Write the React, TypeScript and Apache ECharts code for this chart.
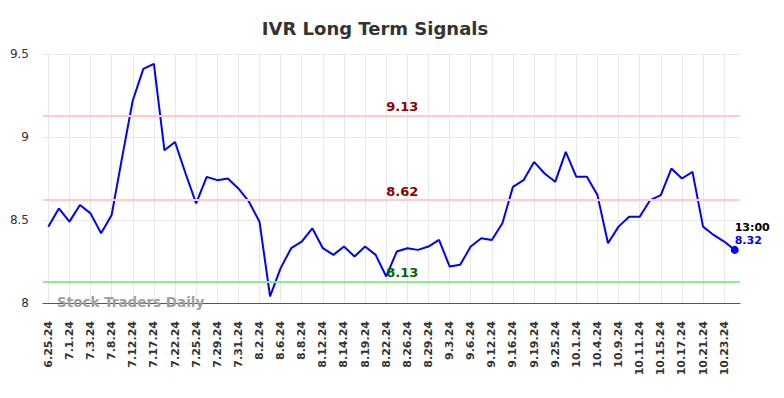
import React, { useEffect, useRef } from "react";
import * as echarts from "echarts";

const TITLE = "IVR Long Term Signals";
const WATERMARK = "Stock Traders Daily";
const LAST_TIME = "13:00";

const dates: string[] = [
  "6.25.24", "6.27.24", "7.1.24", "7.2.24", "7.3.24", "7.5.24", "7.8.24", "7.10.24",
  "7.12.24", "7.15.24", "7.17.24", "7.19.24", "7.22.24", "7.23.24", "7.25.24", "7.26.24",
  "7.29.24", "7.30.24", "7.31.24", "8.1.24", "8.2.24", "8.5.24", "8.6.24", "8.7.24",
  "8.8.24", "8.9.24", "8.12.24", "8.13.24", "8.14.24", "8.16.24", "8.19.24", "8.21.24",
  "8.22.24", "8.23.24", "8.26.24", "8.27.24", "8.29.24", "8.30.24", "9.3.24", "9.4.24",
  "9.6.24", "9.10.24", "9.12.24", "9.13.24", "9.16.24", "9.18.24", "9.19.24", "9.23.24",
  "9.25.24", "9.27.24", "10.1.24", "10.2.24", "10.4.24", "10.7.24", "10.9.24", "10.10.24",
  "10.11.24", "10.14.24", "10.15.24", "10.16.24", "10.17.24", "10.18.24", "10.21.24", "10.22.24",
  "10.23.24", "10.24.24",
];

const prices: number[] = [
  8.46, 8.57, 8.49, 8.59, 8.54, 8.42, 8.53, 8.88,
  9.22, 9.41, 9.44, 8.92, 8.97, 8.78, 8.60, 8.76,
  8.74, 8.75, 8.69, 8.61, 8.49, 8.04, 8.21, 8.33,
  8.37, 8.45, 8.33, 8.29, 8.34, 8.28, 8.34, 8.29,
  8.16, 8.31, 8.33, 8.32, 8.34, 8.38, 8.22, 8.23,
  8.34, 8.39, 8.38, 8.48, 8.70, 8.74, 8.85, 8.78,
  8.73, 8.91, 8.76, 8.76, 8.65, 8.36, 8.46, 8.52,
  8.52, 8.62, 8.65, 8.81, 8.75, 8.79, 8.46, 8.41,
  8.37, 8.32,
];

const resistanceLevels: number[] = [9.13, 8.62];
const supportLevels: number[] = [8.13];
const signalLabelIndex = 32;

const yTicks = { min: 8, max: 9.5, interval: 0.5 };

export default function App() {
  const ref = useRef<HTMLDivElement>(null);

  useEffect(() => {
    if (!ref.current) return;
    const chart = echarts.init(ref.current, undefined, { renderer: "svg" });
    const lastIdx = prices.length - 1;
    const lastVal = prices[lastIdx];

    const levelLines = [
      ...resistanceLevels.map((v) => ({
        yAxis: v,
        lineStyle: { color: "#ffcccc", width: 2, type: "solid" },
      })),
      ...supportLevels.map((v) => ({
        yAxis: v,
        lineStyle: { color: "#90ee90", width: 2, type: "solid" },
      })),
    ];

    const levelLabels = [
      ...resistanceLevels.map((v) => ({
        coord: [signalLabelIndex, v],
        value: v,
        label: { color: "#8b0000" },
      })),
      ...supportLevels.map((v) => ({
        coord: [signalLabelIndex, v],
        value: v,
        label: { color: "#006400" },
      })),
    ];

    chart.setOption({
      animation: false,
      backgroundColor: "#ffffff",
      title: {
        text: TITLE,
        left: 370,
        top: 14,
        textAlign: "center",
        textStyle: {
          fontFamily: "DejaVu Sans",
          fontWeight: "bold",
          fontSize: 18,
          color: "#333333",
        },
      },
      grid: { left: 43, right: 44, top: 54, bottom: 95, containLabel: false },
      xAxis: {
        type: "category",
        data: dates,
        boundaryGap: true,
        axisLine: { show: true, lineStyle: { color: "#555555", width: 1 } },
        axisTick: { show: false, alignWithLabel: true, interval: 1 },
        axisLabel: {
          interval: 1,
          rotate: 90,
          margin: 18,
          fontFamily: "DejaVu Sans",
          fontWeight: "bold",
          fontSize: 11,
          color: "#333333",
        },
        splitLine: {
          show: true,
          interval: 1,
          alignWithLabel: true,
          lineStyle: { color: "#e8e8e8", width: 1 },
        },
      },
      yAxis: {
        type: "value",
        min: yTicks.min,
        max: yTicks.max,
        interval: yTicks.interval,
        axisLine: { show: false },
        axisTick: { show: false },
        axisLabel: {
          margin: 14,
          fontFamily: "DejaVu Sans",
          fontSize: 12,
          color: "#333333",
        },
        splitLine: { show: true, lineStyle: { color: "#e8e8e8", width: 1 } },
      },
      graphic: [
        {
          type: "text",
          left: 57,
          top: 295,
          z: 100,
          style: {
            text: WATERMARK,
            fill: "#a0a0a0",
            font: "bold 13.5px 'DejaVu Sans'",
          },
        },
      ],
      series: [
        {
          type: "line",
          data: prices,
          showSymbol: false,
          symbol: "none",
          lineStyle: { color: "#0000ff", width: 2 },
          itemStyle: { color: "#0000ff" },
          markLine: {
            silent: true,
            symbol: ["none", "none"],
            label: { show: false },
            data: levelLines,
          },
          markPoint: {
            silent: true,
            symbol: "circle",
            symbolSize: 0,
            label: {
              show: true,
              position: "right",
              distance: 0,
              offset: [0, -9],
              fontFamily: "DejaVu Sans",
              fontWeight: "bold",
              fontSize: 13,
              formatter: (p: any) => String(p.value),
            },
            data: levelLabels,
          },
          z: 3,
        },
        {
          type: "scatter",
          data: [[lastIdx, lastVal]],
          symbol: "circle",
          symbolSize: 8,
          itemStyle: { color: "#0000ff", opacity: 1 },
          label: {
            show: true,
            position: "top",
            align: "left",
            offset: [0, 6],
            opacity: 1,
            formatter: () => `{t|${LAST_TIME}}\n{v|${lastVal.toFixed(2)}}`,
            rich: {
              t: {
                fontFamily: "DejaVu Sans",
                fontWeight: "bold",
                fontSize: 11,
                color: "#000000",
                lineHeight: 13,
              },
              v: {
                fontFamily: "DejaVu Sans",
                fontWeight: "bold",
                fontSize: 11,
                color: "#0000ff",
                lineHeight: 13,
              },
            },
          },
          z: 4,
        },
      ],
    });

    return () => chart.dispose();
  }, []);

  return <div ref={ref} style={{ width: 784, height: 398, position: "absolute", left: 0, top: 0 }} />;
}
